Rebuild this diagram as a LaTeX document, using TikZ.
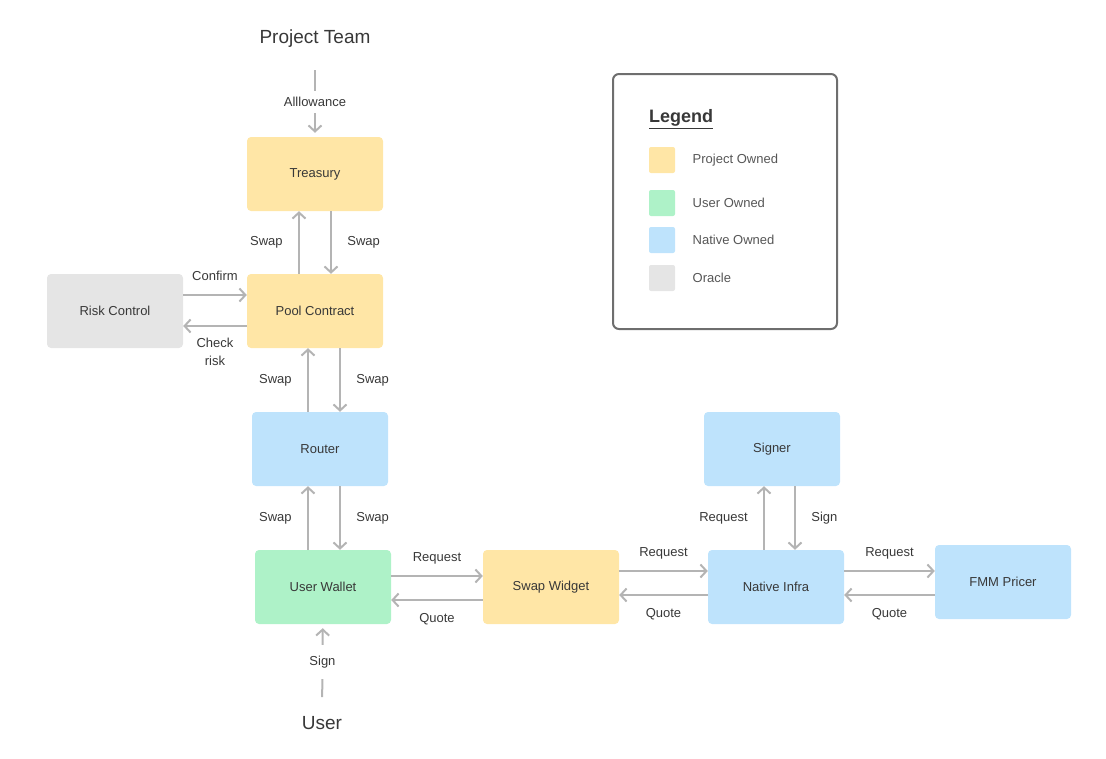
\documentclass[tikz,border=0pt]{standalone}
\usepackage{fontspec}
\setmainfont{Liberation Sans}
\usepackage{xcolor}
\usepackage{tikz}
\usetikzlibrary{arrows.meta, positioning, calc}
\definecolor{projyellow}{HTML}{FFE6A6}
\definecolor{usergreen}{HTML}{AEF2C8}
\definecolor{nativeblue}{HTML}{BEE3FC}
\definecolor{oraclegray}{HTML}{E5E5E5}
\definecolor{arrgray}{HTML}{B4B4B4}
\definecolor{txtgray}{HTML}{383838}
\definecolor{framegray}{HTML}{6E6E6E}

\begin{document}
\begin{tikzpicture}[
  x=1pt, y=-1pt,
  every node/.style={font=\fontsize{13}{18}\selectfont, text=txtgray},
  box/.style={rounded corners=4pt, minimum width=136pt, minimum height=74pt, align=center},
  proj/.style={box, fill=projyellow},
  usr/.style={box, fill=usergreen},
  native/.style={box, fill=nativeblue},
  oracle/.style={box, fill=oraclegray},
  actor/.style={font=\fontsize{19}{22}\selectfont, inner sep=0pt},
  gap/.style={fill=white, inner ysep=6pt},
  arr/.style={-{Straight Barb[length=6pt,width=13pt]}, line width=2pt, draw=arrgray},
  legendbox/.style={draw=framegray, line width=2pt, rounded corners=6pt,
                    minimum width=224pt, minimum height=255pt, inner sep=0pt},
  swatch/.style={rounded corners=2pt, minimum size=26pt, inner sep=0pt},
  legtxt/.style={anchor=west, text=txtgray!85}
]
\useasboundingbox (0,0) rectangle (1106,758);

%% actors
\node[actor] (team) at (315,39)  {Project Team};
\node[actor] (user) at (322,723) {User};

%% components
\node[proj]   (treasury) at (315,174)  {Treasury};
\node[proj]   (pool)     at (315,311)  {Pool Contract};
\node[oracle] (risk)     at (115,311)  {Risk Control};
\node[native] (router)   at (320,449)  {Router};
\node[usr]    (wallet)   at (323,587)  {User Wallet};
\node[proj]   (widget)   at (551,587)  {Swap Widget};
\node[native] (infra)    at (776,587)  {Native Infra};
\node[native] (signer)   at (772,449)  {Signer};
\node[native] (pricer)   at (1003,582) {FMM Pricer};

%% allowance / sign
\draw[arr, shorten <=22pt, shorten >=4pt] (team) -- node[gap, pos=0.61]{Alllowance} (treasury);
\draw[arr, shorten <=19pt, shorten >=4pt] (user) -- node[gap, pos=0.59, inner ysep=11pt]{Sign} (wallet);

%% swap column
\foreach \lo/\hi/\ul/\uh/\dl/\dh in {pool/treasury/-16/-16/16/16,
                                     router/pool/-12/-7/20/25,
                                     wallet/router/-15/-12/17/20} {
  \draw[arr] ($(\lo.north)+(\ul,0)$) -- node[left=12pt]{Swap} ($(\hi.south)+(\uh,0)$);
  \draw[arr] ($(\hi.south)+(\dh,0)$) -- node[right=12pt]{Swap} ($(\lo.north)+(\dl,0)$);
}

%% risk check
\draw[arr] ($(risk.east)+(0,-16)$) -- node[above=10pt]{Confirm} ($(pool.west)+(0,-16)$);
\draw[arr] ($(pool.west)+(0,15)$) -- node[below=8pt, align=center]{Check\\risk} ($(risk.east)+(0,15)$);

%% request / quote row
\foreach \a/\b/\ra/\rb/\qa/\qb in {wallet/widget/-11/-11/13/13,
                                   widget/infra/-16/-16/8/8,
                                   infra/pricer/-16/-11/8/13} {
  \draw[arr] ($(\a.east)+(0,\ra)$) -- node[above=7pt]{Request} ($(\b.west)+(0,\rb)$);
  \draw[arr] ($(\b.west)+(0,\qb)$) -- node[below=9pt]{Quote} ($(\a.east)+(0,\qa)$);
}

%% signer
\draw[arr] ($(infra.north)+(-12,0)$) -- node[left=12pt]{Request} ($(signer.south)+(-8,0)$);
\draw[arr] ($(signer.south)+(23,0)$) -- node[right=12pt]{Sign} ($(infra.north)+(19,0)$);

%% legend
\node[legendbox] (legend) at (725,201.5) {};
\node[anchor=west, inner sep=0pt, font=\fontsize{18}{22}\selectfont\bfseries] (legtitle) at (649,119) {\underline{Legend}};
\foreach \c/\t/\y [count=\i] in {projyellow/Project Owned/160,
                                 usergreen/User Owned/203,
                                 nativeblue/Native Owned/240,
                                 oraclegray/Oracle/278} {
  \node[swatch, fill=\c] (sw\i) at (662,\y) {};
  \node[legtxt, right=14pt of sw\i] {\t};
}
\end{tikzpicture}
\end{document}
